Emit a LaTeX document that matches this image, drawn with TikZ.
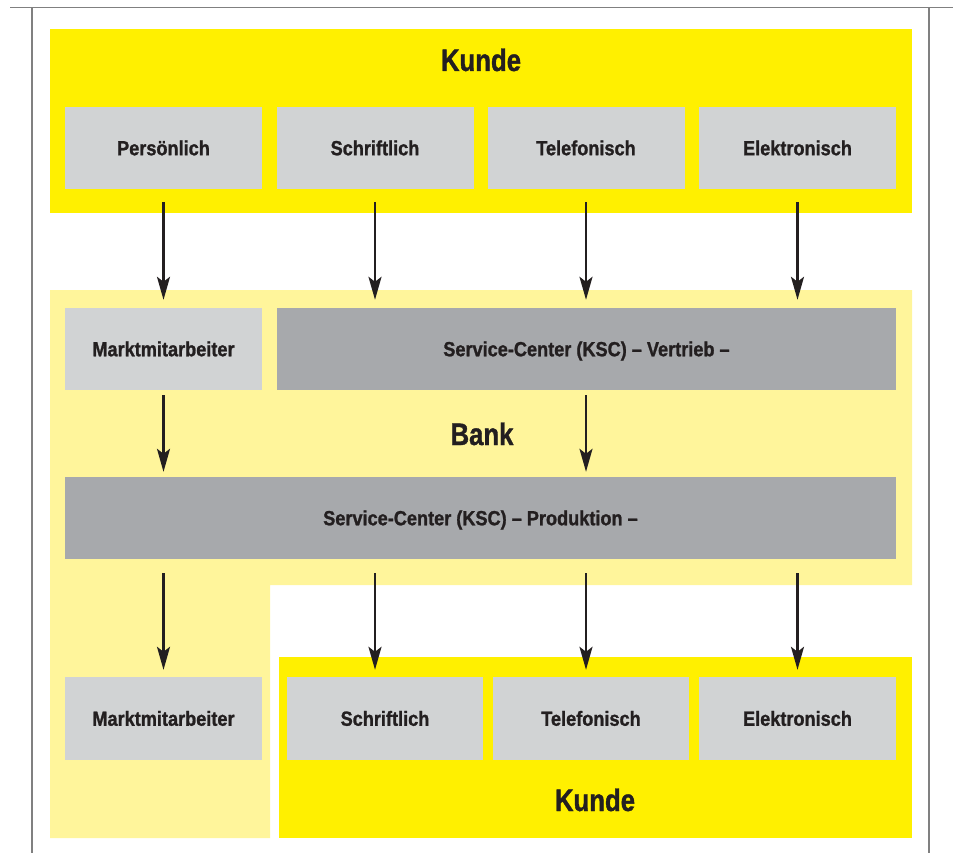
\documentclass[tikz,border=0pt]{standalone}
\usepackage{fontspec}
\newfontfamily\cond[FakeStretch=0.885,Ligatures=TeX,BoldFeatures={FakeBold=1.2}]{Liberation Sans}
\newfontfamily\condtitle[FakeStretch=0.83,Ligatures=TeX,BoldFeatures={FakeBold=1.2}]{Liberation Sans}
\usetikzlibrary{arrows.meta}
\definecolor{ky}{HTML}{FFF000}
\definecolor{ly}{HTML}{FFF59B}
\definecolor{lg}{HTML}{D1D3D4}
\definecolor{dg}{HTML}{A7A9AC}
\definecolor{tx}{HTML}{231F20}
\definecolor{fr}{HTML}{808080}
\begin{document}
\begin{tikzpicture}[x=1pt,y=-1pt,
  box/.style={fill=lg, minimum height=82pt, inner sep=0pt, text height=14.5pt, text depth=0pt,
    font=\cond\bfseries\fontsize{20.5}{24}\selectfont, text=tx},
  darkbox/.style={box, fill=dg},
  title/.style={anchor=base, inner sep=0pt, font=\condtitle\bfseries\fontsize{31}{34}\selectfont, text=tx},
  arr/.style={draw=tx, line width=2.3pt, -{Stealth[length=23pt,width=13pt,inset=5pt]}},
  frame/.style={draw=fr, line width=1.5pt}]
\useasboundingbox (0,0) rectangle (955,853);
% frame
\draw[frame] (10,7.5) -- (953,7.5);
\draw[frame] (32,7.5) -- (32,853);
\draw[frame] (929,7.5) -- (929,853);
% backgrounds
\fill[ky] (50,29) rectangle (912,213);
\fill[ly] (50,290) -- (912,290) -- (912,585) -- (270,585) -- (270,838) -- (50,838) -- cycle;
\fill[ky] (279,657) rectangle (912,838);
% titles
\node[title] (kunde1) at (481,71) {Kunde};
\node[title] (bank) at (482,445) {Bank};
\node[title] (kunde2) at (595,811) {Kunde};
% top row
\node[box, minimum width=197pt] (p1) at (163.5,148) {Persönlich};
\node[box, minimum width=197pt] (p2) at (375,148) {Schriftlich};
\node[box, minimum width=197pt] (p3) at (586,148) {Telefonisch};
\node[box, minimum width=197pt] (p4) at (797.5,148) {Elektronisch};
% bank row 1
\node[box, minimum width=197pt] (m1) at (163.5,349) {Marktmitarbeiter};
\node[darkbox, minimum width=619pt] (vert) at (586.5,349) {Service-Center (KSC) – Vertrieb –};
% bank row 2
\node[darkbox, minimum width=831pt] (prod) at (480.5,518) {Service-Center (KSC) – Produktion –};
% bottom row
\node[box, minimum width=197pt, minimum height=83pt] (m2) at (163.5,718.5) {Marktmitarbeiter};
\node[box, minimum width=196pt, minimum height=83pt] (b2) at (385,718.5) {Schriftlich};
\node[box, minimum width=196pt, minimum height=83pt] (b3) at (591,718.5) {Telefonisch};
\node[box, minimum width=197pt, minimum height=83pt] (b4) at (797.5,718.5) {Elektronisch};
% arrows row 1
\draw[arr, shorten <=13pt, shorten >=8pt] (p1.south) -- (m1.north);
\draw[arr, shorten <=13pt, shorten >=8pt] (p2.south) -- (p2.south |- vert.north);
\draw[arr, shorten <=13pt, shorten >=8pt] (p3.south) -- (p3.south |- vert.north);
\draw[arr, shorten <=13pt, shorten >=8pt] (p4.south) -- (p4.south |- vert.north);
% arrows row 2
\draw[arr, shorten <=5pt, shorten >=5pt] (m1.south) -- (m1.south |- prod.north);
\draw[arr, shorten <=5pt, shorten >=5pt] (p3.south |- vert.south) -- (p3.south |- prod.north);
% arrows row 3
\draw[arr, shorten <=14pt, shorten >=7pt] (p1.south |- prod.south) -- (m2.north);
\draw[arr, shorten <=14pt, shorten >=7pt] (p2.south |- prod.south) -- (p2.south |- b2.north);
\draw[arr, shorten <=14pt, shorten >=7pt] (p3.south |- prod.south) -- (p3.south |- b3.north);
\draw[arr, shorten <=14pt, shorten >=7pt] (p4.south |- prod.south) -- (p4.south |- b4.north);
\end{tikzpicture}
\end{document}
